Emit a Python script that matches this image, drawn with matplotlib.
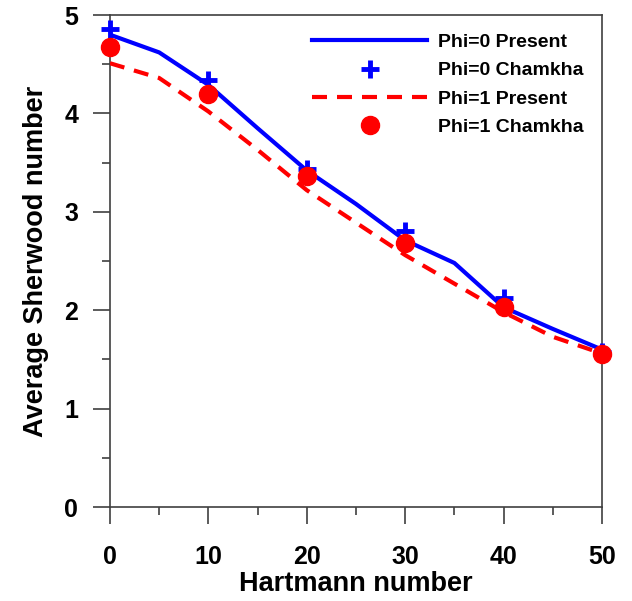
import matplotlib.pyplot as plt
from matplotlib.ticker import MultipleLocator

plt.rcParams['font.family'] = ['Liberation Sans', 'DejaVu Sans']
plt.rcParams['font.weight'] = 'bold'

# Hartmann number sweep
hartmann = [0, 5, 10, 15, 20, 25, 30, 35, 40, 45, 50]
sh_phi0_present = [4.80, 4.62, 4.29, 3.85, 3.42, 3.08, 2.71, 2.48, 2.03, 1.81, 1.60]
sh_phi1_present = [4.51, 4.36, 4.02, 3.63, 3.22, 2.89, 2.56, 2.27, 1.98, 1.73, 1.56]

# Chamkha reference values
hartmann_ref = [0, 10, 20, 30, 40, 50]
sh_phi0_chamkha = [4.86, 4.34, 3.44, 2.80, 2.12, 1.58]
sh_phi1_chamkha = [4.68, 4.20, 3.36, 2.68, 2.03, 1.55]

fig = plt.figure(figsize=(6.32, 6.01), dpi=100)
ax = fig.add_axes([0.174, 0.1564, 0.7785, 0.8186])

ax.plot(hartmann, sh_phi0_present, color='#0000ff', lw=3, label='Phi=0 Present', zorder=3)
ax.plot(hartmann_ref, sh_phi0_chamkha, ls='none', marker='+', ms=13, mew=3.5,
        color='#0000ff', label='Phi=0 Chamkha', zorder=4, clip_on=False)
ax.plot(hartmann, sh_phi1_present, color='#ff0000', lw=3, ls=(0, (3.6, 2.4)),
        label='Phi=1 Present', zorder=3)
ax.plot(hartmann_ref, sh_phi1_chamkha, ls='none', marker='o', ms=13,
        color='#ff0000', label='Phi=1 Chamkha', zorder=5, clip_on=False)

ax.set_xlim(0, 50)
ax.set_ylim(0, 5)
ax.xaxis.set_major_locator(MultipleLocator(10))
ax.xaxis.set_minor_locator(MultipleLocator(5))
ax.yaxis.set_major_locator(MultipleLocator(1))
ax.yaxis.set_minor_locator(MultipleLocator(0.5))

for s in ax.spines.values():
    s.set_linewidth(1.2)
    s.set_color('#404040')
ax.tick_params(which='major', direction='out', length=12, width=1.2, color='#404040',
               labelsize=18)
ax.tick_params(which='minor', direction='out', length=6, width=1.2, color='#404040')
ax.tick_params(axis='x', which='major', pad=15)
ax.tick_params(axis='y', which='major', pad=11)

ax.set_xlabel('Hartmann number', fontsize=19.5, fontweight='bold', labelpad=2)
ax.set_ylabel('Average Sherwood number', fontsize=19.5, fontweight='bold', labelpad=11)

ax.legend(loc='upper right', frameon=False, handlelength=5.9,
          handletextpad=0.55, labelspacing=0.55, borderaxespad=0.55,
          prop={'weight': 'bold', 'size': 14})

fig.savefig('out.png', dpi=100)
